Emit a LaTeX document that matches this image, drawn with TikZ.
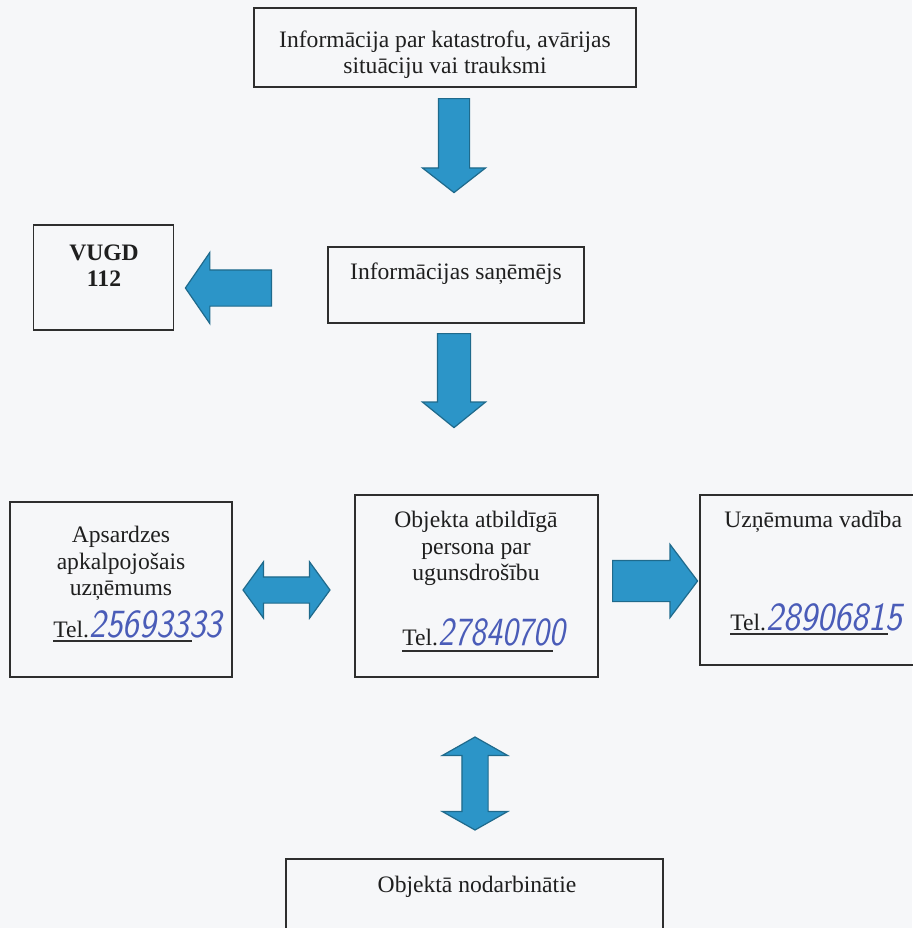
\documentclass[tikz,border=0pt]{standalone}
\usepackage{fontspec}
\setmainfont{Liberation Serif}
\usetikzlibrary{shapes.arrows,positioning}
\definecolor{Paper}{HTML}{F6F7F9}
\definecolor{Frame}{HTML}{2E2E2E}
\definecolor{Flow}{HTML}{2C95C8}
\definecolor{FlowEdge}{HTML}{1F6A8C}
\definecolor{Pen}{HTML}{4A5CB8}
\tikzset{
  box/.style={rectangle,draw=Frame,line width=.8pt,inner sep=0pt},
  txt/.style={font=\fontsize{11.8}{13.3}\selectfont,align=center,inner sep=0pt,text=black!88},
  hand/.style={font=\sffamily\itshape\fontsize{20}{20}\selectfont,text=Pen,inner sep=0pt},
  telline/.style={draw=Frame,line width=1pt},
  blk/.style={draw=FlowEdge,fill=Flow,line width=.6pt,inner sep=0pt},
  onearrow/.style={blk,single arrow},
  twoarrow/.style={blk,double arrow}
}

\begin{document}
\begin{tikzpicture}[x=.5pt,y=-.5pt]
    \fill[Paper] (0,0) rectangle (912,928);
    \useasboundingbox (0,0) rectangle (912,928);
    % boxes
    \node[box,minimum width=191pt,minimum height=39.5pt] (info) at (445,47.5) {};
    \node[box,minimum width=70pt,minimum height=52.5pt] (vugd) at (103.5,277.5) {};
    \node[box,minimum width=128pt,minimum height=38pt] (recv) at (456,285) {};
    \node[box,minimum width=111pt,minimum height=87.5pt] (guard) at (121,589.5) {};
    \node[box,minimum width=121.5pt,minimum height=91pt] (resp) at (476.5,586) {};
    \node[box,minimum width=115pt,minimum height=85pt] (mgmt) at (815,580) {};
    \node[box,minimum width=188.5pt,minimum height=50.5pt] (staff) at (474.5,909.5) {};
    % texts
    \node[txt,anchor=north] (infotxt) at (445,30) {Informācija par katastrofu, avārijas\\situāciju vai trauksmi};
    \node[txt,anchor=north] (vugdtxt) at (104,244) {\textbf{VUGD}\\\textbf{112}};
    \node[txt,anchor=base] (recvtxt) at (456,279) {Informācijas saņēmējs};
    \node[txt,anchor=north] (guardtxt) at (121,526) {Apsardzes\\apkalpojošais\\uzņēmums};
    \node[txt,anchor=north] (resptxt) at (476,511) {Objekta atbildīgā\\persona par\\ugunsdrošību};
    \node[txt,anchor=base west] (mgmttxt) at (724,527) {Uzņēmuma vadība};
    \node[txt,anchor=base] (stafftxt) at (477,892) {Objektā nodarbinātie};
    % phone lines
    \node[txt,anchor=base west] (guardtel) at (53,637) {Tel.};
    \node[hand,base right=0pt of guardtel] (guardno) {\scalebox{.88}[1]{25693333}};
    \draw[telline] ([yshift=-2pt]guardtel.base west) -- ++(139,0);
    \node[txt,anchor=base west] (resptel) at (402,645) {Tel.};
    \node[hand,base right=0pt of resptel] (respno) {\scalebox{.84}[1]{27840700}};
    \draw[telline] ([yshift=-3pt]resptel.base west) -- ++(151,0);
    \node[txt,anchor=base west] (mgmttel) at (730,630) {Tel.};
    \node[hand,base right=0pt of mgmttel] (mgmtno) {\scalebox{.9}[1]{28906815}};
    \draw[telline] ([yshift=-2pt]mgmttel.base west) -- ++(158,0);
    % block arrows
    \node[onearrow,rotate=-90,anchor=tail,minimum height=47pt,inner ysep=7.5pt,
      single arrow head extend=8pt,single arrow tip angle=104] (down1) at (454,98) {};
    \node[onearrow,rotate=-90,anchor=tail,minimum height=47pt,inner ysep=8pt,
      single arrow head extend=7.5pt,single arrow tip angle=102] (down2) at (454,333) {};
    \node[onearrow,rotate=180,anchor=tail,minimum height=43pt,inner ysep=8.75pt,
      single arrow head extend=8.75pt,single arrow tip angle=111] (tovugd) at (272,288) {};
    \node[onearrow,anchor=tail,minimum height=42.5pt,inner ysep=10pt,
      single arrow head extend=8pt,single arrow tip angle=106] (tomgmt) at (612,581) {};
    \node[twoarrow,minimum height=43.5pt,inner ysep=6.25pt,
      double arrow head extend=7.5pt,double arrow tip angle=108] (guardresp) at (286.5,590) {};
    \node[twoarrow,rotate=90,minimum height=46.5pt,inner ysep=6.25pt,
      double arrow head extend=9.75pt,double arrow tip angle=121] (respstaff) at (475,783.5) {};
\end{tikzpicture}
\end{document}
